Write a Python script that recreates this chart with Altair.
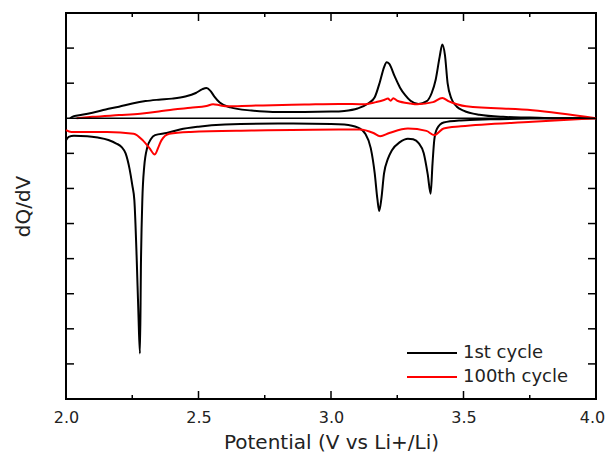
import altair as alt
import pandas as pd

# ---- data ----
series_names = ["1st cycle", "100th cycle"]
series_colors = ["black", "red"]

c1_charge_v = [2.015, 2.03, 2.06, 2.1, 2.15, 2.2, 2.25, 2.3, 2.35, 2.4, 2.45, 2.49, 2.515, 2.53, 2.545, 2.56, 2.58, 2.62, 2.7, 2.78, 2.9, 3.0, 3.05, 3.1, 3.14, 3.165, 3.185, 3.2, 3.21, 3.22, 3.24, 3.26, 3.28, 3.3, 3.33, 3.36, 3.38, 3.395, 3.41, 3.42, 3.43, 3.44, 3.455, 3.475, 3.5, 3.56, 3.65, 3.75, 3.85, 4.0]
c1_charge_dq = [0.0, 0.06, 0.1, 0.16, 0.25, 0.33, 0.42, 0.49, 0.53, 0.56, 0.62, 0.72, 0.83, 0.86, 0.78, 0.62, 0.45, 0.31, 0.22, 0.18, 0.18, 0.19, 0.21, 0.28, 0.42, 0.6, 1.05, 1.45, 1.6, 1.55, 1.2, 0.88, 0.66, 0.5, 0.41, 0.48, 0.72, 1.1, 1.75, 2.1, 1.8, 1.0, 0.55, 0.33, 0.22, 0.1, 0.04, 0.02, 0.0, 0.0]

c1_dis_v = [2.0, 2.01, 2.03, 2.08, 2.12, 2.16, 2.19, 2.21, 2.225, 2.24, 2.25, 2.258, 2.267, 2.273, 2.279, 2.283, 2.288, 2.295, 2.307, 2.32, 2.336, 2.38, 2.43, 2.5, 2.6, 2.8, 3.0, 3.05, 3.1, 3.13, 3.15, 3.165, 3.175, 3.182, 3.19, 3.2, 3.215, 3.23, 3.26, 3.29, 3.31, 3.33, 3.35, 3.365, 3.376, 3.383, 3.39, 3.4, 3.425, 3.49, 3.6, 3.75, 4.0]
c1_dis_dq = [-0.63, -0.53, -0.5, -0.51, -0.55, -0.62, -0.72, -0.82, -1.0, -1.45, -1.9, -2.34, -4.05, -5.5, -6.7, -4.05, -2.34, -1.39, -0.82, -0.6, -0.48, -0.42, -0.32, -0.24, -0.18, -0.15, -0.16, -0.18, -0.26, -0.45, -0.85, -1.57, -2.3, -2.64, -2.3, -1.58, -1.15, -0.91, -0.68, -0.58, -0.6, -0.7, -1.0, -1.6, -2.15, -1.3, -0.6, -0.3, -0.12, -0.06, -0.03, -0.01, 0.0]

c100_charge_v = [2.04, 2.1, 2.2, 2.28, 2.35, 2.405, 2.47, 2.53, 2.555, 2.58, 2.61, 2.7, 2.78, 2.9, 3.03, 3.13, 3.17, 3.2, 3.215, 3.225, 3.235, 3.25, 3.3, 3.325, 3.385, 3.42, 3.445, 3.475, 3.51, 3.76, 4.0]
c100_charge_dq = [0.0, 0.04, 0.09, 0.13, 0.19, 0.25, 0.3, 0.35, 0.4, 0.37, 0.34, 0.36, 0.37, 0.39, 0.41, 0.4, 0.46, 0.52, 0.56, 0.5, 0.57, 0.5, 0.42, 0.4, 0.46, 0.58, 0.48, 0.4, 0.34, 0.23, 0.0]

c100_dis_v = [2.0, 2.02, 2.155, 2.255, 2.29, 2.315, 2.335, 2.35, 2.36, 2.39, 2.47, 2.7, 3.03, 3.11, 3.16, 3.185, 3.22, 3.29, 3.36, 3.39, 3.425, 3.49, 3.76, 4.0]
c100_dis_dq = [-0.34, -0.39, -0.39, -0.44, -0.63, -0.85, -1.03, -0.8, -0.63, -0.44, -0.39, -0.35, -0.32, -0.32, -0.42, -0.51, -0.42, -0.29, -0.36, -0.48, -0.29, -0.23, -0.1, 0.0]

x_major_ticks = [2.0, 2.5, 3.0, 3.5, 4.0]
x_minor_ticks = [2.25, 2.75, 3.25, 3.75]
y_ticks = [-7, -6, -5, -4, -3, -2, -1, 1, 2]
x_domain = [2.0, 4.0]
y_domain = [-8, 3]

# ---- build tables ----
rows = []
for name, branch, vs, dqs in [
    (series_names[0], "c1_charge", c1_charge_v, c1_charge_dq),
    (series_names[0], "c1_dis", c1_dis_v, c1_dis_dq),
    (series_names[1], "c100_charge", c100_charge_v, c100_charge_dq),
    (series_names[1], "c100_dis", c100_dis_v, c100_dis_dq),
]:
    for i, (v, q) in enumerate(zip(vs, dqs)):
        rows.append({"series": name, "branch": branch, "idx": i, "v": v, "dq": q})
df = pd.DataFrame(rows)

W, H = 530, 386
FONT = "DejaVu Sans"
xs = alt.Scale(domain=x_domain, nice=False, zero=False)
ys = alt.Scale(domain=y_domain, nice=False, zero=False)

x_axis = alt.Axis(values=x_major_ticks, format=".1f", ticks=False, domain=False, grid=False,
                  labelFlush=False, labelOverlap=False,
                  labelOffset=alt.condition("datum.value >= 4", alt.value(-4), alt.value(0)),
                  labelFont=FONT, labelFontSize=16, labelColor="#222", labelPadding=10,
                  title="Potential (V vs Li+/Li)", titleFont=FONT, titleFontSize=20,
                  titleFontWeight="normal", titleColor="#222", titlePadding=7)
y_axis = alt.Axis(labels=False, ticks=False, domain=False, grid=False,
                  title="dQ/dV", titleFont=FONT, titleFontSize=20,
                  titleFontWeight="normal", titleColor="#222", titlePadding=33)

lines = alt.Chart(df).mark_line(strokeWidth=2, interpolate="monotone").encode(
    x=alt.X("v:Q", scale=xs, axis=x_axis, title="Potential (V vs Li+/Li)"),
    y=alt.Y("dq:Q", scale=ys, axis=y_axis, title="dQ/dV"),
    color=alt.Color("series:N", scale=alt.Scale(domain=series_names, range=series_colors), legend=None),
    detail="branch:N",
    order="idx:Q",
)

zero_df = pd.DataFrame({"y0": [0]})
zero_line = alt.Chart(zero_df).mark_rule(color="black", strokeWidth=1.5).encode(
    y=alt.Y("y0:Q", scale=ys, axis=y_axis, title="dQ/dV")
)

xmaj = pd.DataFrame({"t": x_major_ticks})
xmin = pd.DataFrame({"t": x_minor_ticks})
ydf = pd.DataFrame({"t": y_ticks})

def xtick(data, y1, y2):
    return alt.Chart(data).mark_rule(color="black", strokeWidth=1.5).encode(
        x=alt.X("t:Q", scale=xs, axis=x_axis, title="Potential (V vs Li+/Li)"),
        y=alt.value(y1), y2=alt.value(y2))

def ytick(data, x1, x2):
    return alt.Chart(data).mark_rule(color="black", strokeWidth=1.5).encode(
        y=alt.Y("t:Q", scale=ys, axis=y_axis, title="dQ/dV"),
        x=alt.value(x1), x2=alt.value(x2))

ticks = [
    xtick(xmaj, H, H - 8), xtick(xmin, H, H - 4),
    xtick(xmaj, 0, 8), xtick(xmin, 0, 4),
    ytick(ydf, 0, 8), ytick(ydf, W, W - 8),
]

leg_df = pd.DataFrame({"name": series_names, "color": series_colors})
legend_layers = []
for i, (name, col) in enumerate(zip(series_names, series_colors)):
    yy = 340 + 24 * i
    sub = leg_df[leg_df["name"] == name]
    legend_layers.append(alt.Chart(sub).mark_rule(color=col, strokeWidth=2).encode(
        x=alt.value(341), x2=alt.value(391), y=alt.value(yy)))
    legend_layers.append(alt.Chart(sub).mark_text(align="left", baseline="middle", font=FONT,
                                                  fontSize=18, color="#222").encode(
        x=alt.value(397), y=alt.value(yy), text="name:N"))

chart = alt.layer(lines, zero_line, *ticks, *legend_layers).properties(
    width=W, height=H,
    autosize=alt.AutoSizeParams(type="none"),
    padding={"left": 58, "top": 5, "right": 9, "bottom": 56},
).configure_view(stroke="black", strokeWidth=2)

chart.save("out.html", embed_options={"renderer": "svg", "actions": False})
